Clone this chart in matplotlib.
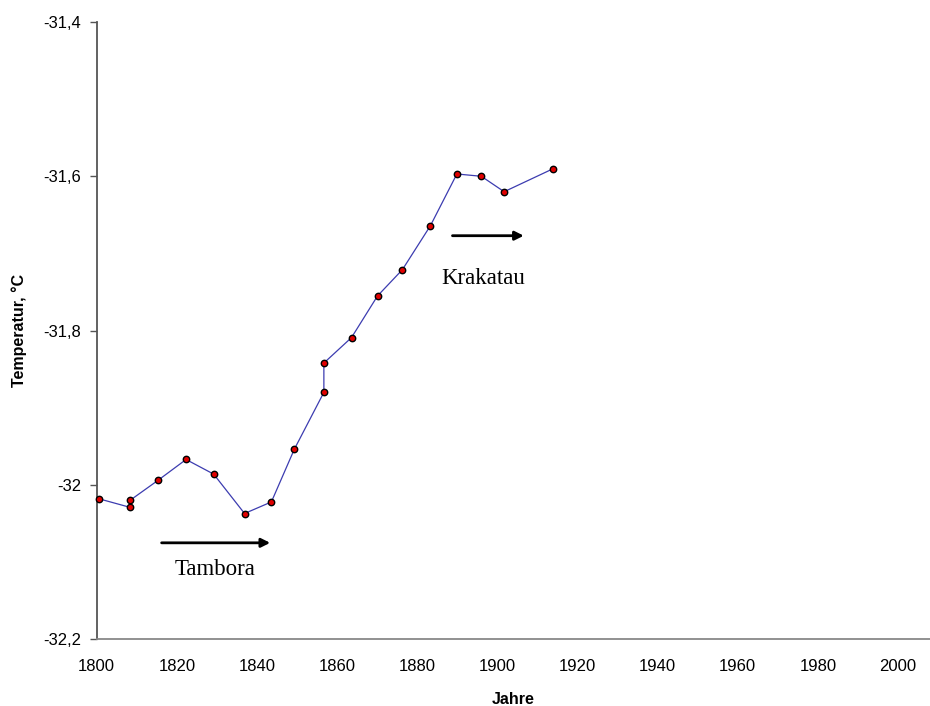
import matplotlib
matplotlib.use("Agg")
import matplotlib.pyplot as plt

years = [1800.6, 1808.3, 1808.3, 1815.3, 1822.3, 1829.2, 1836.9, 1843.6, 1849.3,
         1856.7, 1856.7, 1863.6, 1870.1, 1876.3, 1883.3, 1889.9, 1896.0, 1901.7, 1914.0]
temps = [-32.018, -32.029, -32.020, -31.994, -31.967, -31.986, -32.037, -32.022, -31.954,
         -31.880, -31.842, -31.809, -31.755, -31.721, -31.664, -31.597, -31.600, -31.620, -31.590]

x_ticks = [1800, 1820, 1840, 1860, 1880, 1900, 1920, 1940, 1960, 1980, 2000]
y_ticks = [-31.4, -31.6, -31.8, -32.0, -32.2]
y_tick_labels = ["-31,4", "-31,6", "-31,8", "-32", "-32,2"]

events = ["Tambora", "Krakatau"]
event_arrow_start = [1816.2, 1888.8]
event_arrow_end = [1843.3, 1906.6]
event_arrow_y = [-32.075, -31.677]
event_text_x = [1829.6, 1896.4]
event_text_y = [-32.110, -31.733]

fig = plt.figure(figsize=(9.30, 7.06), dpi=100)
ax = fig.add_axes([0.104, 0.0945, 0.896, 0.8744])

ax.plot(years, temps, color="#3c3cb0", lw=0.9, marker="o", markersize=4.6,
        markerfacecolor="#e00000", markeredgecolor="black", markeredgewidth=1.0,
        clip_on=False, zorder=3)

ax.set_xlim(1800, 2008)
ax.set_ylim(-32.2, -31.4)
ax.set_xticks(x_ticks)
ax.set_xticklabels([str(v) for v in x_ticks])
ax.set_yticks(y_ticks)
ax.set_yticklabels(y_tick_labels)

for s in ["top", "right"]:
    ax.spines[s].set_visible(False)
ax.spines["left"].set_color("#555555")
ax.spines["left"].set_linewidth(1.3)
ax.spines["bottom"].set_color("#888888")
ax.spines["bottom"].set_linewidth(1.3)

ax.tick_params(axis="x", length=0, pad=14, labelsize=12)
ax.tick_params(axis="y", length=5, width=1.0, color="#555555", direction="out",
               pad=6, labelsize=12)
for lab in ax.get_xticklabels() + ax.get_yticklabels():
    lab.set_fontfamily("Liberation Sans")

ax.set_xlabel("Jahre", fontsize=11.5, fontweight="bold", family="Liberation Sans", labelpad=13)
ax.set_ylabel("Temperatur, °C", fontsize=11.5, fontweight="bold", family="Liberation Sans", labelpad=12)

for name, xs, xe, ya, tx, ty in zip(events, event_arrow_start, event_arrow_end,
                                     event_arrow_y, event_text_x, event_text_y):
    ax.annotate("", xy=(xe, ya), xytext=(xs, ya),
                arrowprops=dict(arrowstyle="-|>", color="black", lw=2.0,
                                mutation_scale=13, shrinkA=0, shrinkB=0))
    ax.text(tx, ty, name, ha="center", va="center", fontsize=16.5,
            family="Liberation Serif")

fig.savefig("out.png", dpi=100)
